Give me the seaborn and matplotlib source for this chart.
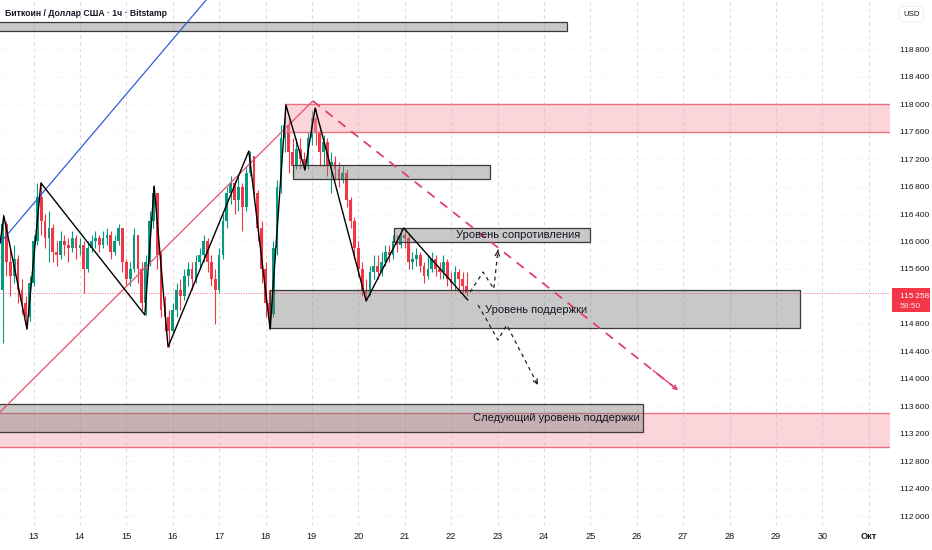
import numpy as np
import pandas as pd
import matplotlib
matplotlib.use("Agg")
import matplotlib.pyplot as plt
import matplotlib.transforms as mtransforms
from matplotlib.patches import Rectangle
import seaborn as sns

# 2-hour candles, Sep 12 08:00 -> Sep 22 08:00
first_open = 115300
closes = [116250, 115700, 115500, 115750, 115300, 115100, 114900, 115400, 116000, 116650,
          116300, 116050, 116200, 115850, 115800, 116000, 115950, 115900, 116050, 115900,
          115950, 115600, 115900, 116000, 116050, 115950, 116050, 116100, 115850, 116000,
          116200, 115700, 115450, 115600, 116100, 115600, 115100, 115700, 116300, 116700,
          115800, 115000, 114900, 114700, 115000, 115300, 115200, 115500, 115600, 115450,
          115700, 115800, 116000, 115700, 115450, 115300, 115800, 116300, 116700, 116850,
          116600, 116800, 116500, 117000, 117250, 116700, 116200, 115600, 115100, 114950,
          115900, 116800, 117500, 117700, 117300, 117100, 117350, 117200, 117100, 117500,
          117800, 117600, 117300, 117450, 117100, 117150, 117050, 116900, 117000, 116600,
          116300, 115900, 115600, 115300, 115250, 115550, 115650, 115550, 115700, 115850,
          115800, 116000, 115950, 116100, 116050, 115700, 115750, 115800, 115650, 115500,
          115600, 115750, 115600, 115550, 115700, 115450, 115400, 115550, 115450, 115350,
          115258]
highs = [116400, 116300, 115900, 115950, 115800, 115450, 115200, 115500, 116100, 116850,
         116860, 116400, 116450, 116250, 116000, 116150, 116100, 116050, 116150, 116100,
         116050, 116000, 116000, 116100, 116150, 116100, 116150, 116200, 116150, 116100,
         116250, 116200, 115750, 115700, 116200, 116100, 115700, 115800, 116450, 116810,
         116700, 115850, 115200, 115000, 115100, 115400, 115450, 115600, 115700, 115700,
         115800, 115900, 116100, 116050, 115800, 115600, 115900, 116400, 116800, 116950,
         116900, 116950, 116850, 117100, 117320, 117250, 116750, 116300, 115700, 115300,
         116000, 116900, 117700, 117990, 117800, 117500, 117500, 117500, 117300, 117600,
         117900, 117940, 117700, 117550, 117500, 117300, 117250, 117150, 117100, 117050,
         116650, 116350, 116000, 115700, 115450, 115650, 115800, 115800, 115850, 115950,
         115950, 116100, 116100, 116200, 116200, 116100, 115850, 115900, 115850, 115700,
         115800, 115850, 115800, 115700, 115800, 115750, 115550, 115650, 115600, 115550,
         115550]
lows = [114530, 115500, 115200, 115400, 115100, 114950, 114730, 114850, 115350, 115950,
        116100, 115900, 115700, 115700, 115650, 115750, 115800, 115700, 115850, 115750,
        115800, 115250, 115550, 115850, 115900, 115850, 115900, 115950, 115750, 115800,
        115950, 115550, 115350, 115350, 115550, 115400, 115000, 114930, 115650, 116200,
        115600, 114900, 114700, 114470, 114650, 114900, 115000, 115150, 115350, 115300,
        115400, 115600, 115700, 115550, 115350, 114800, 115250, 115750, 116200, 116550,
        116400, 116450, 116150, 116450, 116950, 116600, 116000, 115400, 114900, 114730,
        114900, 115800, 116700, 117300, 117000, 116950, 117050, 117050, 117040, 117050,
        117400, 117400, 117100, 117100, 116950, 116700, 116900, 116800, 116850, 116500,
        116200, 115750, 115500, 115200, 115140, 115200, 115450, 115450, 115500, 115650,
        115700, 115750, 115850, 115900, 115900, 115600, 115600, 115650, 115550, 115400,
        115450, 115550, 115500, 115450, 115450, 115350, 115300, 115300, 115300, 115250,
        115200]

# zigzag drawn over the candles (day of month, price)
zz_day = [12.28, 12.36, 12.86, 13.16, 15.40, 15.60, 15.90, 17.64, 18.10, 18.44,
          18.85, 19.07, 20.17, 20.98, 22.36]
zz_price = [115978, 116371, 114727, 116851, 114931, 116807, 114465, 117316, 114727, 117985,
            117040, 117942, 115135, 116196, 115149]

# zones: (day from, day to, price low, price high)
zone_top_gray = (11.5, 24.50, 119062, 119193)
zone_mid_gray = (18.59, 22.84, 116909, 117113)
zone_resist = (20.77, 24.99, 115993, 116196)
zone_support = (18.10, 29.52, 114742, 115295)
zone_next = (11.5, 26.14, 113229, 113636)
pink_top = (18.42, 33.0, 117600, 118000)
pink_bottom = (11.5, 33.0, 113011, 113505)

blue_day, blue_price = [12.28, 16.72], [115978, 119513]
trend_day, trend_price = [12.28, 19.02], [113520, 118044]
dash_day, dash_price = [19.02, 26.94], [118044, 113811]
bull_day = [22.41, 22.69, 22.92, 23.01]
bull_price = [115265, 115556, 115309, 115876]
bear_day = [22.58, 22.73, 23.01, 23.20, 23.87]
bear_price = [115076, 114902, 114567, 114785, 113913]

last_price = 115258
price_ticks = [112000, 112400, 112800, 113200, 113600, 114000, 114400, 114800,
               115600, 116000, 116400, 116800, 117200, 117600, 118000, 118400, 118800]
day_ticks = list(range(13, 32))
day_labels = [str(d) for d in range(13, 31)] + ["Окт"]

df = pd.DataFrame({"close": closes, "high": highs, "low": lows})
df["open"] = [first_open] + closes[:-1]
df["day"] = 12 + (8 + 2 * np.arange(len(df))) / 24
df["up"] = df["close"] >= df["open"]

sns.set_style("white")
plt.rcParams["font.family"] = ["Liberation Sans", "DejaVu Sans"]

GREEN = "#089981"
RED = "#f23645"
TXT = "#131722"

fig = plt.figure(figsize=(9.32, 5.5), dpi=100)
ax = fig.add_axes([0, 25 / 550, 890 / 932, 525 / 550])
ax.set_xlim(12.278, 31.459)
ax.set_ylim(111876, 119513)

# grid
for d in day_ticks:
    ax.axvline(d, color="#d9dbe1", lw=0.8, ls=(0, (3, 3)), zorder=0)
for p in price_ticks:
    ax.axhline(p, color="#f3f4f7", lw=0.8, ls=(0, (2, 3)), zorder=0)

# candles
cols = np.where(df["up"], GREEN, RED)
ax.vlines(df["day"], df["low"], df["high"], colors=cols, lw=0.8, zorder=2)
body_lo = np.minimum(df["open"], df["close"])
body_h = np.maximum(np.abs(df["close"] - df["open"]), 15)
ax.bar(df["day"], body_h, bottom=body_lo, width=0.06, color=cols, lw=0, zorder=2)


def zone(z, face, edge, alpha, lw=1.0, zorder=3, full_edges=True):
    d0, d1, p0, p1 = z
    ax.add_patch(Rectangle((d0, p0), d1 - d0, p1 - p0, facecolor=face, alpha=alpha,
                           edgecolor="none", zorder=zorder))
    if full_edges:
        ax.add_patch(Rectangle((d0, p0), d1 - d0, p1 - p0, facecolor="none",
                               edgecolor=edge, lw=lw, zorder=zorder + 0.1))
    else:
        ax.plot([d0, d1], [p0, p0], color=edge, lw=lw, zorder=zorder + 0.1)
        ax.plot([d0, d1], [p1, p1], color=edge, lw=lw, zorder=zorder + 0.1)


zone(pink_top, "#f7a3ae", "#e8707f", 0.45, lw=1.0, full_edges=False)
zone(pink_bottom, "#f7a3ae", "#e8707f", 0.45, lw=1.0, full_edges=False)
for z in (zone_top_gray, zone_mid_gray, zone_resist, zone_support, zone_next):
    zone(z, "#7e7e7e", "#3a3a3a", 0.42, lw=0.9, zorder=4)

# last price line
ax.axhline(last_price, color=RED, lw=0.7, ls=(0, (1, 1.5)), alpha=0.7, zorder=5)

# lines
sns.lineplot(x=blue_day, y=blue_price, color="#2f5fd8", lw=0.9, ax=ax, sort=False, zorder=5)
sns.lineplot(x=trend_day, y=trend_price, color="#e8506a", lw=0.9, ax=ax, sort=False, zorder=5)
sns.lineplot(x=dash_day, y=dash_price, color="#e0406a", lw=1.3, ax=ax, sort=False,
             zorder=5, linestyle=(0, (5, 4)))
sns.lineplot(x=zz_day, y=zz_price, color="black", lw=1.0, ax=ax, sort=False, zorder=6)
sns.lineplot(x=bull_day, y=bull_price, color="#222222", lw=0.9, ax=ax, sort=False,
             zorder=6, linestyle=(0, (3, 3)))
sns.lineplot(x=bear_day, y=bear_price, color="#222222", lw=0.9, ax=ax, sort=False,
             zorder=6, linestyle=(0, (3, 3)))

# arrow heads
for xs, ys, c in ((bull_day, bull_price, "#222222"), (bear_day, bear_price, "#222222"),
                  (dash_day, dash_price, "#e0406a")):
    ax.annotate("", xy=(xs[-1], ys[-1]),
                xytext=(xs[-1] - (xs[-1] - xs[-2]) * 0.08, ys[-1] - (ys[-1] - ys[-2]) * 0.08),
                arrowprops=dict(arrowstyle="->", color=c, lw=0.9, mutation_scale=8),
                zorder=7)

# zone captions
cap = dict(fontsize=8.0, color=TXT, va="center", ha="left", zorder=8)
ax.text(22.11, 116090, "Уровень сопротивления", **cap)
ax.text(22.73, 115010, "Уровень поддержки", **cap)
ax.text(22.47, 113435, "Следующий уровень поддержки", **cap)

# axes styling
for s in ax.spines.values():
    s.set_visible(False)
ax.yaxis.tick_right()
ax.set_yticks(price_ticks)
ax.set_yticklabels([f"{p // 1000}\u2009{p % 1000:03d}" for p in price_ticks])
ax.set_xticks(day_ticks)
ax.set_xticklabels(day_labels)
ax.tick_params(axis="y", length=0, pad=7, labelsize=6.0, labelcolor=TXT)
ax.tick_params(axis="x", length=0, pad=5, labelsize=6.6, labelcolor=TXT)
ax.get_xticklabels()[-1].set_fontweight("bold")
ax.set_xlabel("")
ax.set_ylabel("")

# last price badge
trans = mtransforms.blended_transform_factory(ax.transAxes, ax.transData)
ax.add_patch(Rectangle((1.002, 114975), 0.043, 350, transform=trans, facecolor=RED,
                       edgecolor="none", clip_on=False, zorder=10))
ax.text(1.011, 115195, "115\u2009258", transform=trans, color="white", fontsize=6.0,
        va="center", ha="left", zorder=11, clip_on=False)
ax.text(1.011, 115050, "58:50", transform=trans, color="#fde0e3", fontsize=6.0,
        va="center", ha="left", zorder=11, clip_on=False)

fig.text(5 / 932, 1 - 14 / 550, "Биткоин / Доллар США · 1ч · Bitstamp", fontsize=6.2,
         fontweight="bold", color=TXT, va="center", ha="left")
fig.text(903 / 932, 1 - 14 / 550, "USD", fontsize=5.6, color=TXT, va="center",
         ha="left", bbox=dict(boxstyle="round,pad=0.5", fc="white", ec="#e6e8ee", lw=0.5))

fig.savefig("out.png", dpi=100)
